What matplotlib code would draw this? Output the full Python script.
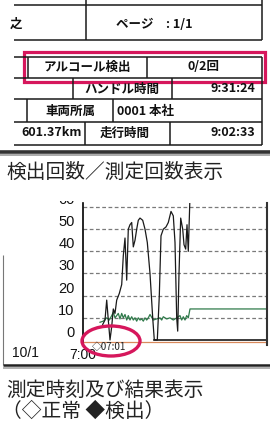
import matplotlib
matplotlib.use('Agg')
import matplotlib.pyplot as plt
from matplotlib.patches import Rectangle, Ellipse
from matplotlib.transforms import Bbox, TransformedBbox

JP = ['Noto Sans CJK JP', 'DejaVu Sans']
RED = '#d6175c'

# black trace (minutes after 7:00, value)
black_t = [1.97, 2.2, 2.37, 2.53, 2.7, 2.87, 3.03, 3.2, 3.37, 3.63, 3.87, 4.03, 4.2, 4.37,
           4.53, 4.7, 4.87, 5.03, 5.2, 5.37, 5.53, 5.7, 5.97, 6.2, 6.43, 6.7, 6.97, 7.13,
           7.43, 7.63, 7.8, 8.03, 8.3, 8.53, 8.8, 9.03, 9.2, 9.37, 9.47, 9.6, 9.77, 9.97,
           10.1, 10.27, 10.4, 10.53, 10.7]
black_v = [7, 9, 18, 9, 0, 6, 14, 12, 18, 21, 25, 38, 46, 27,
           50, 52, 53, 42, 45, 50, 54, 55, 54, 50, 44, 30, 10, 0,
           0, 20, 47, 50, 51, 53, 58, 56, 44, 10, 4, 30, 55, 50,
           43, 41, 52, 40, 65]

# green trace
green_t = [1.7, 2.03, 2.37, 2.63, 2.87, 3.03, 3.2, 3.37, 3.53, 3.7, 3.87, 4.03, 4.2, 4.37,
           4.53, 4.7, 4.87, 5.03, 5.2, 5.37, 5.53, 5.7, 5.87, 6.03, 6.2, 6.37, 6.53, 6.7,
           7.03, 7.7, 7.87, 8.03, 8.37, 8.7, 9.03, 9.37, 9.7, 9.87, 10.03, 10.2, 10.37,
           10.53, 10.7, 18.7]
green_v = [8, 8.5, 10, 9, 11, 12.5, 10, 11, 12, 9.5, 12, 10, 11.5, 9,
           11, 9, 10.5, 9, 10, 8.5, 10, 9, 9.5, 8.5, 10, 9, 10, 11.5,
           9, 10, 9, 10.5, 9.5, 10, 9, 10, 11, 9, 10.5, 9, 11,
           10, 14, 14]

zero_t = [7.13, 18.7]
zero_v = [0, 0]

check_t = [0.9]
check_lbl = ['07:01']

y_ticks = [0, 10, 20, 30, 40, 50, 60]
x_ticks = [0]
x_tick_lbl = ['7:00']
date_lbl = '10/1'

W, H = 270, 426
fig = plt.figure(figsize=(W / 100, H / 100), dpi=100)
fig.patch.set_facecolor('white')

page = fig.add_axes([0, 0, 1, 1], zorder=2)
page.set_xlim(0, W)
page.set_ylim(H, 0)
page.axis('off')
page.patch.set_alpha(0)

LC = '#1a1a1a'


def hl(y, x0, x1, lw=1.1, c=LC):
    page.plot([x0, x1], [y, y], color=c, lw=lw, solid_capstyle='butt')


def vl(x, y0, y1, lw=1.1, c=LC):
    page.plot([x, x], [y0, y1], color=c, lw=lw, solid_capstyle='butt')


# table lines
for y in [5, 40, 78, 99, 122, 145]:
    hl(y, 14, 262)
hl(57, 14, 262)
vl(86, 0, 40)
vl(262, 0, 40)
for x in [28, 147, 262]:
    vl(x, 57, 78)
for x in [73, 172, 262]:
    vl(x, 78, 99)
for x in [27, 113, 262]:
    vl(x, 99, 122)
for x in [85, 170, 262]:
    vl(x, 122, 145)
hl(152, 0, 270, lw=2.6, c='#333333')
hl(155, 0, 270, lw=1.4, c='#aaaaaa')

tk = dict(family=JP, fontsize=9, weight='bold', color='#111', va='center')
page.text(10, 24, '之', **tk)
page.text(116, 24, 'ページ　: 1/1', **tk)
page.text(87, 67, 'アルコール検出', ha='center', **tk)
page.text(203, 67, '0/2回', ha='center', **tk)
page.text(122, 89, 'ハンドル時間', ha='center', **tk)
page.text(255, 89, '9:31:24', ha='right', **tk)
page.text(70, 111, '車両所属', ha='center', **tk)
page.text(117, 111, '0001 本社', ha='left', **tk)
page.text(52, 133, '601.37km', ha='center', **tk)
page.text(125, 133, '走行時間', ha='center', **tk)
page.text(255, 133, '9:02:33', ha='right', **tk)

page.add_patch(Rectangle((24, 52), 241, 30, fill=False, ec=RED, lw=2.3))

cap = dict(family=JP, fontsize=14.2, color='#222', va='center')
page.text(6, 172, '検出回数／測定回数表示', **cap)
page.text(6, 390, '測定時刻及び結果表示', **cap)
page.text(2, 411, '（◇正常 ◆検出）', **cap)

# chart frame
vl(3, 255, 365, lw=0.8, c='#777777')
hl(365, 3, 270, lw=1.8, c='#222222')
hl(368, 3, 270, lw=1.4, c='#b0b0b0')

page.add_patch(Ellipse((111, 341), 58, 30, fill=False, ec=RED, lw=2.4))

# chart
ax = fig.add_axes([83 / W, (H - 345) / H, (267 - 83) / W, (345 - 203) / H], zorder=1)
ax.set_xlim(0, 18.4)
ax.set_ylim(-2.26, 61.8)
for v in y_ticks[1:]:
    ax.axhline(v, color='#7a7a7a', lw=0.9, ls=(0, (3, 2)))
ax.axhline(-0.7, color='#d98a5c', lw=0.9)
ax.plot(zero_t, zero_v, color=LC, lw=1.2)
ax.plot(green_t, green_v, color='#2f7a4a', lw=0.9)
ax.plot(black_t, black_v, color=LC, lw=0.9)

ax.set_yticks(y_ticks)
ax.set_yticklabels([str(v) for v in y_ticks], fontsize=10.5, family='Liberation Sans',
                   color='#111', va='bottom')
ax.tick_params(axis='y', length=0, pad=6)
ax.set_xticks(x_ticks)
ax.set_xticklabels(x_tick_lbl, fontsize=10, family='Liberation Sans', color='#111')
ax.tick_params(axis='x', length=0, pad=2)
for s in ['top', 'bottom']:
    ax.spines[s].set_visible(False)
ax.spines['left'].set_linewidth(1.2)
ax.spines['right'].set_linewidth(1.5)
ax.spines['right'].set_color('#333')

top_lab = ax.yaxis.get_major_ticks()[-1].label1
top_lab.set_clip_on(True)
top_lab.set_clip_box(TransformedBbox(Bbox([[0, 0], [1, (H - 201) / H]]), fig.transFigure))

ax.text(-0.315, -0.056, date_lbl, transform=ax.transAxes, ha='center', va='center',
        fontsize=10, family='Liberation Sans', color='#111')
for t, l in zip(check_t, check_lbl):
    ax.annotate('◇' + l, xy=(t, 0), xycoords=('data', 'axes fraction'), xytext=(0, -1.5),
                textcoords='offset points', ha='left', va='center', fontsize=7,
                family=JP, color='#222', annotation_clip=False)

fig.savefig('out.png', dpi=100)
